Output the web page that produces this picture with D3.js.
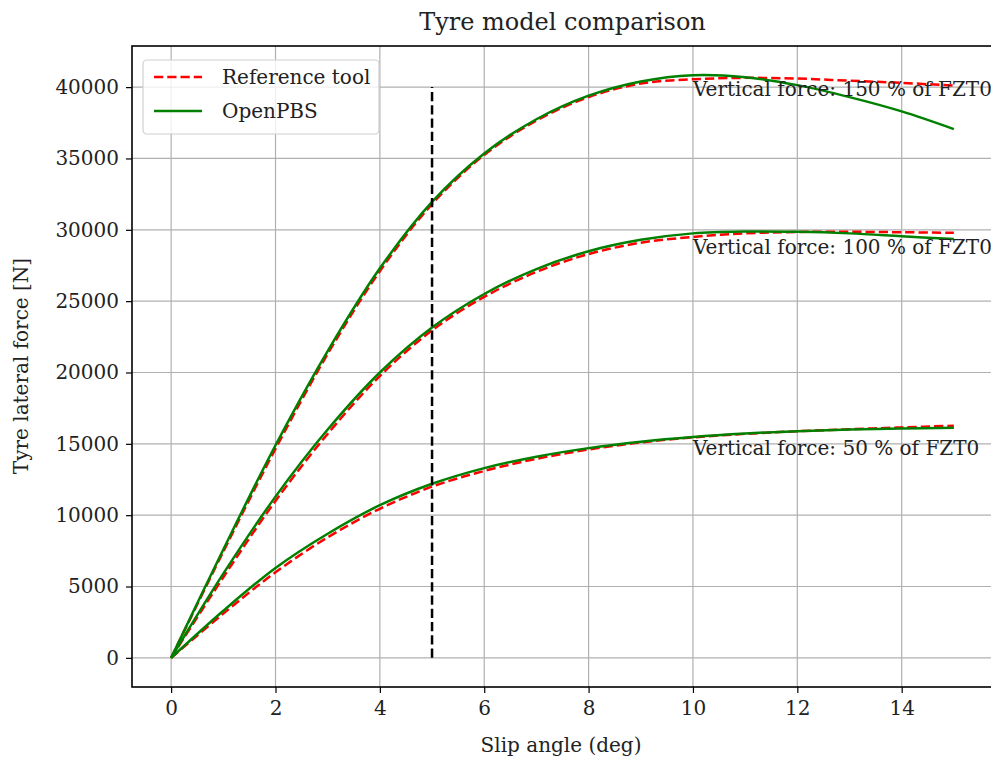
<!DOCTYPE html>
<html><head><meta charset="utf-8">
<script src="https://cdn.jsdelivr.net/npm/d3@7"></script>
<style>body{margin:0;background:#fff}svg{display:block}text{font-family:"DejaVu Serif",serif;fill:#222}</style>
</head><body><svg id="c" width="991" height="761"></svg>
<script>
const slip = [0,1,2,3,4,5,6,7,8,9,10,11,12,13,14,15];
const ref150 = [0,7450,14650,21300,27100,31800,35250,37650,39300,40250,40550,40650,40600,40450,40300,40100];
const pbs150 = [0,7600,14900,21500,27300,31960,35350,37750,39400,40400,40840,40700,40140,39300,38300,37060];
const ref100 = [0,5650,11000,15700,19750,22950,25300,27050,28300,29100,29500,29750,29850,29860,29830,29790];
const pbs100 = [0,5900,11300,16000,20000,23150,25500,27250,28500,29300,29750,29880,29860,29750,29550,29350];
const ref50 = [0,3100,6000,8450,10450,12000,13100,13950,14600,15100,15450,15700,15880,16020,16150,16270];
const pbs50 = [0,3300,6300,8700,10700,12200,13300,14100,14700,15150,15480,15720,15890,16000,16070,16130];
const xTicks = [0,2,4,6,8,10,12,14];
const yTicks = [0,5000,10000,15000,20000,25000,30000,35000,40000];
const labels = ["Vertical force: 150 % of FZT0","Vertical force: 100 % of FZT0","Vertical force: 50 % of FZT0"];
const labelX = 10;
const labelY = [40550,29500,15450];
const markerSlip = 5;
const markerRange = [0,40000];
const legendNames = ["Reference tool","OpenPBS"];

const svg = d3.select("#c");
const L=132, R=993, T=46, B=687;
const x = d3.scaleLinear().domain([-0.75,15.75]).range([L,R]);
const y = d3.scaleLinear().domain([-2042,42882]).range([B,T]);

const g = svg.append("g");
g.selectAll(".gx").data(xTicks).join("line").attr("x1",d=>x(d)).attr("x2",d=>x(d)).attr("y1",T).attr("y2",B).attr("stroke","#b0b0b0").attr("stroke-width",1.2);
g.selectAll(".gy").data(yTicks).join("line").attr("y1",d=>y(d)).attr("y2",d=>y(d)).attr("x1",L).attr("x2",R).attr("stroke","#b0b0b0").attr("stroke-width",1.2);

const line = d3.line().x((d,i)=>x(slip[i])).y(d=>y(d)).curve(d3.curveCatmullRom.alpha(0.5));
const series = [[ref150,pbs150],[ref100,pbs100],[ref50,pbs50]];
series.forEach(([r,p])=>{
  svg.append("path").attr("d",line(r)).attr("fill","none").attr("stroke","#ff0000").attr("stroke-width",2.5).attr("stroke-dasharray","9.25,4");
});
series.forEach(([r,p])=>{
  svg.append("path").attr("d",line(p)).attr("fill","none").attr("stroke","#008000").attr("stroke-width",2.5);
});
svg.append("line").attr("x1",x(markerSlip)).attr("x2",x(markerSlip)).attr("y1",y(markerRange[0])).attr("y2",y(markerRange[1])).attr("stroke","#000").attr("stroke-width",2.5).attr("stroke-dasharray","9.25,4");

labels.forEach((t,i)=>{
  svg.append("text").attr("x",x(labelX)).attr("y",y(labelY[i])).attr("dominant-baseline","hanging").attr("dy","2").attr("font-size",20).text(t);
});

const ax = svg.append("g").attr("transform",`translate(0,${B})`).call(d3.axisBottom(x).tickValues(xTicks).tickSize(6).tickPadding(8).tickFormat(d3.format("d")));
const ay = svg.append("g").attr("transform",`translate(${L},0)`).call(d3.axisLeft(y).tickValues(yTicks).tickSize(6).tickPadding(7).tickFormat(d3.format("d")));
[ax,ay].forEach(a=>{a.select(".domain").remove();a.selectAll("text").attr("font-size",20).attr("font-family","DejaVu Serif").attr("fill","#222");a.selectAll("line").attr("stroke","#000").attr("stroke-width",1.2);});
svg.append("rect").attr("x",L).attr("y",T).attr("width",R-L).attr("height",B-T).attr("fill","none").attr("stroke","#000").attr("stroke-width",1.6);

svg.append("text").attr("x",(L+R)/2).attr("y",30).attr("text-anchor","middle").attr("font-size",24).text("Tyre model comparison");
svg.append("text").attr("x",561).attr("y",752).attr("text-anchor","middle").attr("font-size",20).text("Slip angle (deg)");
svg.append("text").attr("transform","translate(28,366) rotate(-90)").attr("text-anchor","middle").attr("font-size",20).text("Tyre lateral force [N]");

const lg = svg.append("g");
lg.append("rect").attr("x",143).attr("y",60).attr("width",236).attr("height",74).attr("rx",4).attr("fill","#fff").attr("fill-opacity",0.8).attr("stroke","#d0d0d0").attr("stroke-width",1.2);
lg.append("line").attr("x1",154).attr("x2",202).attr("y1",77).attr("y2",77).attr("stroke","#ff0000").attr("stroke-width",2.5).attr("stroke-dasharray","9.25,4");
lg.append("line").attr("x1",154).attr("x2",202).attr("y1",111).attr("y2",111).attr("stroke","#008000").attr("stroke-width",2.5);
legendNames.forEach((n,i)=>lg.append("text").attr("x",222).attr("y",77+34*i).attr("dy","0.35em").attr("font-size",20).text(n));
</script></body></html>
